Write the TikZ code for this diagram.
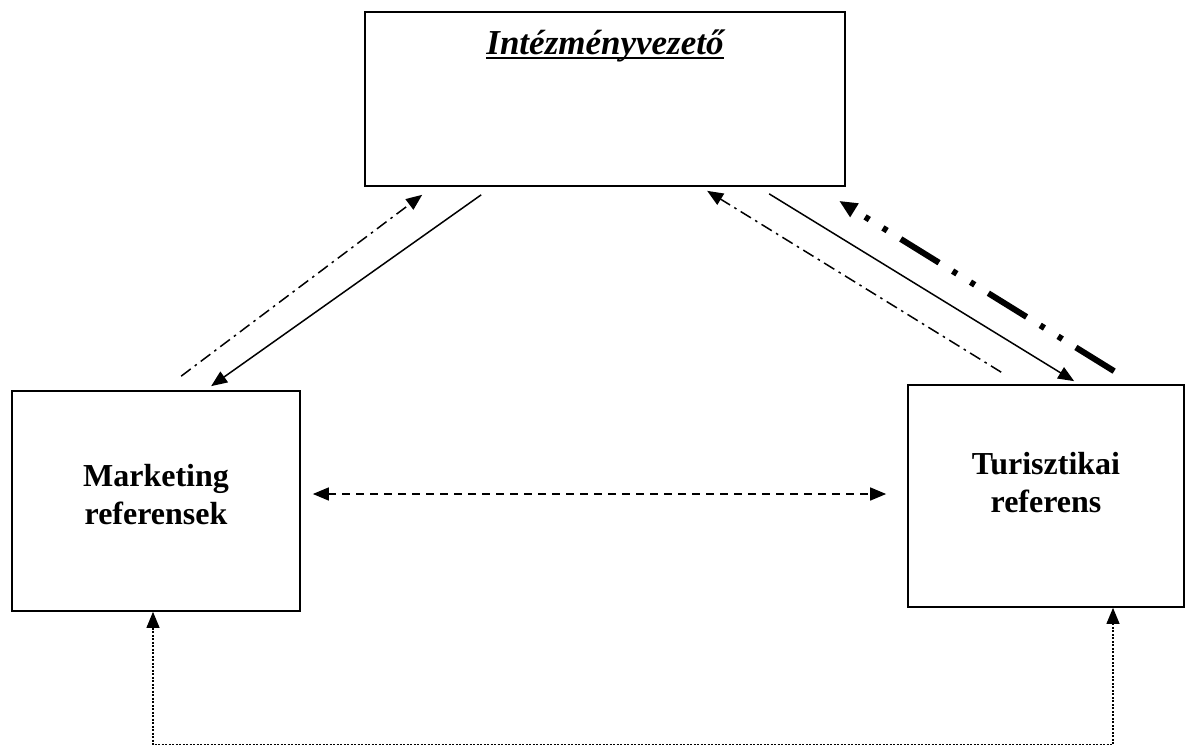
\documentclass[tikz,border=0pt]{standalone}
\usepackage{fontspec}
\setmainfont{Liberation Serif}
\usepackage{tikz}
\usetikzlibrary{positioning, arrows.meta}
\newcommand{\undertitle}[1]{\setbox0\hbox{#1}\rlap{\rule[-5pt]{\wd0}{2.4pt}}\box0}

\begin{document}
\begin{tikzpicture}[x=1pt, y=-1pt,
        >={Triangle[length=16pt, width=13pt]},
        unit/.style={draw, line width=1.7pt, align=center, inner sep=0pt,
            font=\bfseries\fontsize{32}{38}\selectfont},
        flow/.style={line width=1.5pt},
        dashdot/.style={flow, dash pattern=on 12pt off 5pt on 2.5pt off 5pt},
        heavy/.style={line width=6pt, dash pattern=on 45pt off 16pt on 5pt off 16pt on 5pt off 16pt},
        link/.style={flow, dash pattern=on 8pt off 6pt},
        loopback/.style={line width=1.1pt, dash pattern=on 2pt off 1.5pt}]
        \useasboundingbox (0,0) rectangle (1186,749);
        \node [unit, minimum width=480pt, minimum height=174pt] (head) at (605,99) {};
        \node [anchor=base, font=\bfseries\itshape\fontsize{35}{42}\selectfont] (title)
            at ([yshift=-43pt]head.north) {\undertitle{Intézményvezető}};
        \node [unit, minimum width=288pt, minimum height=220pt] (mark) at (156,501) {Marketing\\referensek\\[-24pt]};
        \node [unit, minimum width=276pt, minimum height=222pt] (tour) at (1046,496) {Turisztikai\\referens\\[-10pt]};
        % head <-> marketing
        \draw [dashdot, ->] ([xshift=170pt, yshift=14pt]mark.north west) to ([xshift=58pt, yshift=-8pt]head.south west);
        \draw [flow, ->] ([xshift=117pt, yshift=-8pt]head.south west) to ([xshift=200pt, yshift=4pt]mark.north west);
        % head <-> turisztikai
        \draw [dashdot, ->] ([xshift=94pt, yshift=12pt]tour.north west) to ([xshift=343pt, yshift=-4pt]head.south west);
        \draw [flow, ->] ([xshift=405pt, yshift=-7pt]head.south west) to ([xshift=167pt, yshift=3pt]tour.north west);
        \draw [heavy, -{Triangle[length=18pt, width=15pt]}] ([xshift=207pt, yshift=13pt]tour.north west) to ([xshift=475pt, yshift=-14pt]head.south west);
        % between the referents
        \draw [link, <->] ([xshift=12pt, yshift=7pt]mark.east) to ([xshift=-21pt, yshift=2pt]tour.west);
        \draw [loopback, <->] ([xshift=-3pt]mark.south) -- ++(0,133) -| ([xshift=67pt]tour.south);
\end{tikzpicture}
\end{document}
